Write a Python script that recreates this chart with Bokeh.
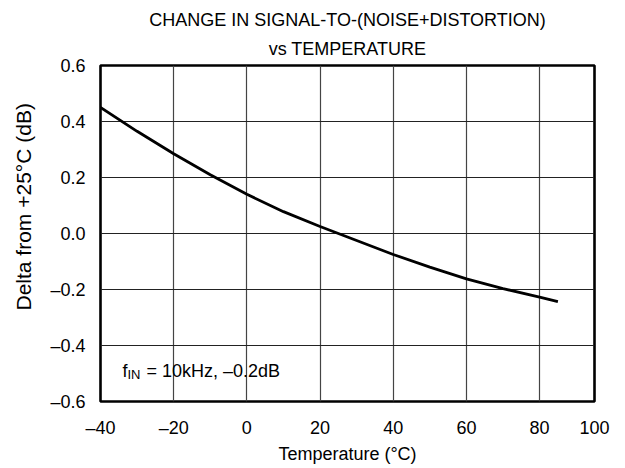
import math
from bokeh.plotting import figure
from bokeh.models import FixedTicker, Label, Title, Range1d
from bokeh.embed import file_html
from bokeh.resources import INLINE

# ---- data ----
temperature = [-40, -30, -20, -10, 0, 10, 20, 30, 40, 50, 60, 70, 80, 85]
delta_db = [0.45, 0.365, 0.285, 0.21, 0.14, 0.078, 0.025, -0.025, -0.075,
            -0.12, -0.162, -0.197, -0.227, -0.243]

x_ticks = [-40, -20, 0, 20, 40, 60, 80, 95]
x_tick_labels = ["\u201340", "\u201320", "0", "20", "40", "60", "80", "100"]
y_ticks = [-0.6, -0.4, -0.2, 0.0, 0.2, 0.4, 0.6]
y_tick_labels = ["\u20130.6", "\u20130.4", "\u20130.2", "0.0", "0.2", "0.4", "0.6"]

title_line1 = "CHANGE IN SIGNAL-TO-(NOISE+DISTORTION)"
title_line2 = "vs TEMPERATURE"
x_label = "Temperature (\u00b0C)"
y_label = "Delta from +25\u00b0C (dB)"

FONT = "Liberation Sans"

p = figure(width=625, height=468, output_backend="svg", toolbar_location=None,
           title=None,
           x_range=Range1d(-40, 95), y_range=Range1d(-0.6, 0.6),
           min_border_left=98, min_border_right=31,
           min_border_top=65, min_border_bottom=67)
p.background_fill_color = "white"
p.border_fill_color = "white"
p.outline_line_color = "black"
p.outline_line_width = 2.6

t2 = Title(text=title_line2, align="center", text_font=FONT,
           text_font_size="18px", text_font_style="normal", text_color="black",
           standoff=14)
t1 = Title(text=title_line1, align="center", text_font=FONT,
           text_font_size="18px", text_font_style="normal", text_color="black",
           standoff=0)
p.add_layout(t2, "above")
p.add_layout(t1, "above")

# axes
p.xaxis.ticker = FixedTicker(ticks=x_ticks)
p.xaxis.major_label_overrides = dict(zip(x_ticks, x_tick_labels))
p.yaxis.ticker = FixedTicker(ticks=y_ticks)
p.yaxis.major_label_overrides = dict(zip(y_ticks, y_tick_labels))
for ax in (p.xaxis, p.yaxis):
    ax.axis_line_color = None
    ax.major_tick_line_color = None
    ax.minor_tick_line_color = None
    ax.major_tick_out = 0
    ax.major_tick_in = 0
    ax.minor_tick_out = 0
    ax.major_label_text_font = FONT
    ax.major_label_text_font_size = "18px"
    ax.major_label_text_color = "black"
p.xaxis.major_label_standoff = 16
p.yaxis.major_label_standoff = 15
p.xaxis.axis_label = x_label
p.xaxis.axis_label_text_font = FONT
p.xaxis.axis_label_text_font_size = "18px"
p.xaxis.axis_label_text_font_style = "normal"
p.xaxis.axis_label_text_color = "black"
p.xaxis.axis_label_standoff = 3

# y-axis label, shifted upward as in the reference
ty = Title(text=y_label, align="left", offset=91, text_font=FONT,
           text_font_size="21px", text_font_style="normal", text_color="black",
           standoff=22, vertical_align="top")
p.add_layout(ty, "left")

p.xgrid.grid_line_color = "#444444"
p.xgrid.grid_line_width = 1.2
p.ygrid.grid_line_color = "#222222"
p.ygrid.grid_line_width = 1.2

p.line(temperature, delta_db, line_color="black", line_width=2.8)

# annotation f_IN = 10kHz, -0.2dB
p.add_layout(Label(x=-40, y=-0.6, x_offset=22, y_offset=31, text="f",
                   text_font=FONT, text_font_size="18px", text_color="black",
                   text_baseline="alphabetic"))
p.add_layout(Label(x=-40, y=-0.6, x_offset=27, y_offset=27.5, text="IN",
                   text_font=FONT, text_font_size="13px", text_color="black",
                   text_baseline="alphabetic"))
p.add_layout(Label(x=-40, y=-0.6, x_offset=46, y_offset=31,
                   text="= 10kHz, \u20130.2dB",
                   text_font=FONT, text_font_size="18px", text_color="black",
                   text_baseline="alphabetic"))

open("out.html", "w").write(file_html(p, INLINE))
